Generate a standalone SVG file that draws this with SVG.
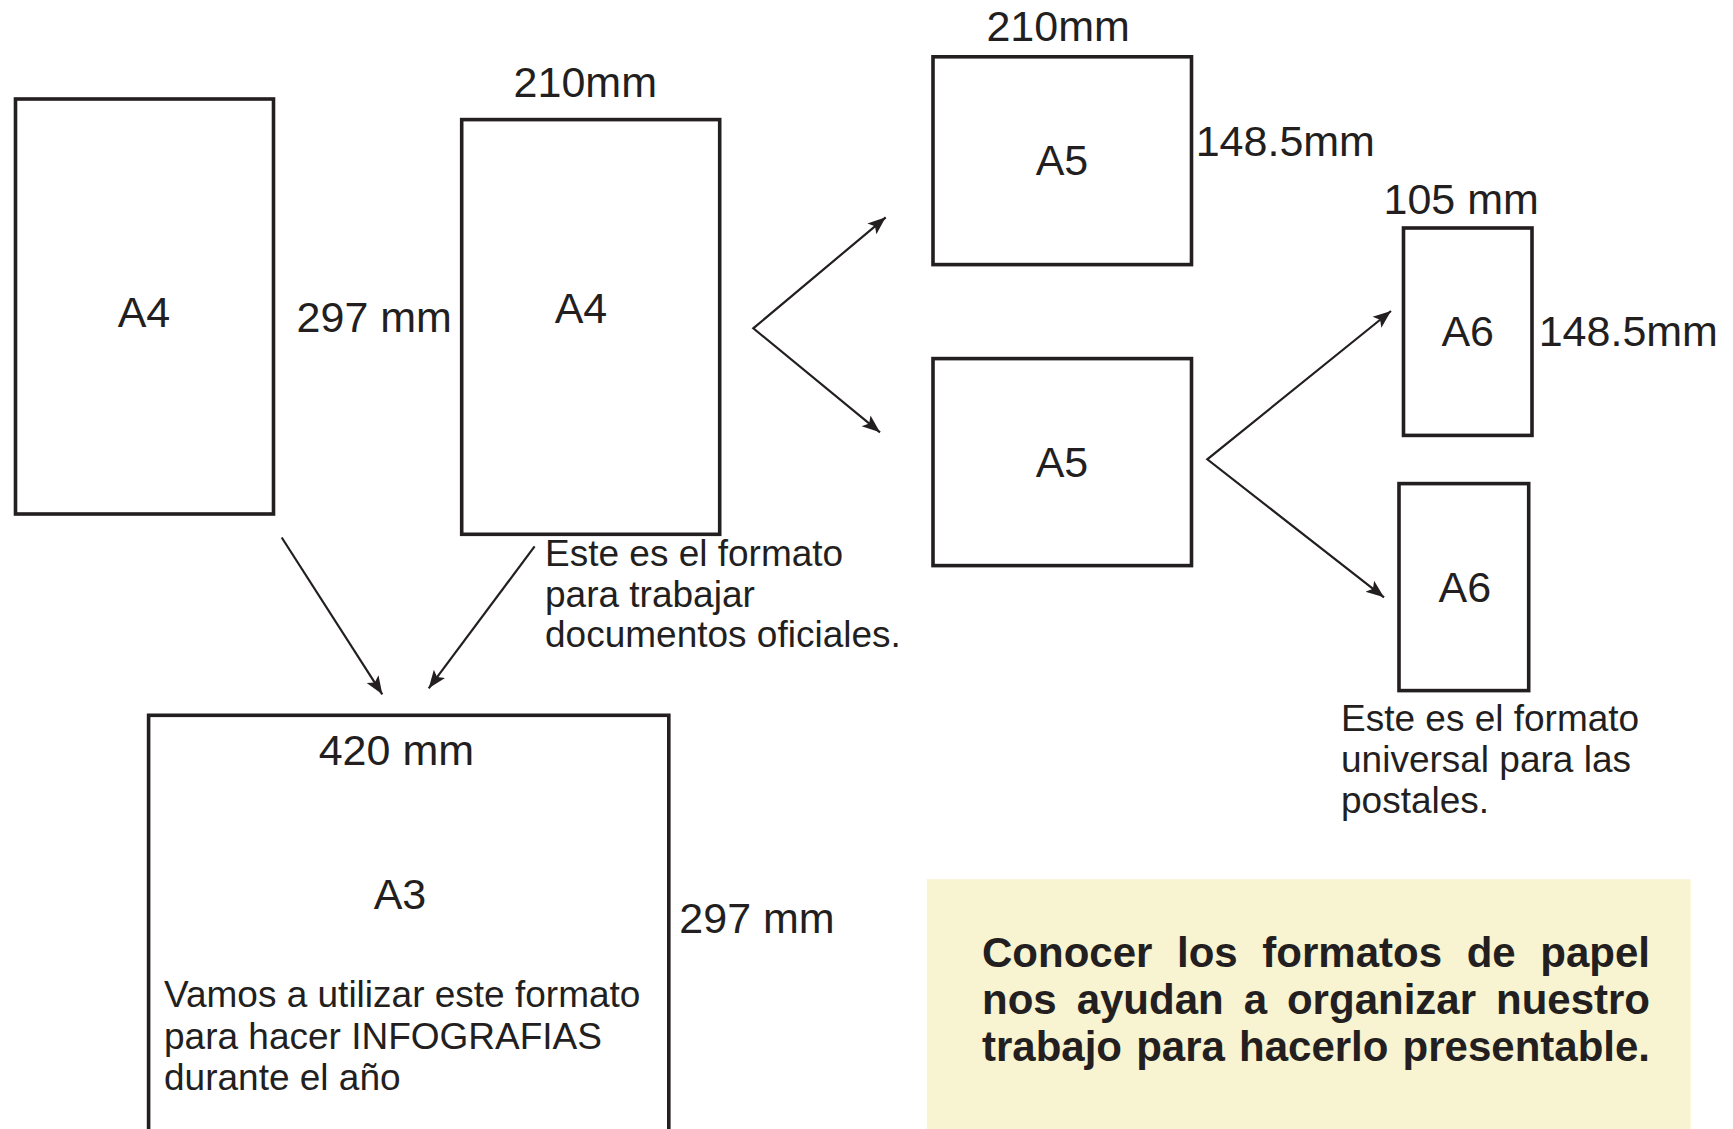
<svg xmlns="http://www.w3.org/2000/svg" width="1733" height="1129" viewBox="0 0 1733 1129">
<defs>
<style>
.sheet{fill:#fff;stroke:#231f20;stroke-width:3.6}
.lbl{font-family:"Liberation Sans",Arial,sans-serif;font-size:43px;fill:#231f20}
.note{font-family:"Liberation Sans",Arial,sans-serif;font-size:37px;fill:#231f20}
.bold{font-family:"Liberation Sans",Arial,sans-serif;font-size:42px;font-weight:bold;fill:#231f20}
.conn{fill:none;stroke:#231f20;stroke-width:2.2}
</style>
<marker id="ah" markerUnits="userSpaceOnUse" markerWidth="20" markerHeight="16" refX="18" refY="7" orient="auto-start-reverse" viewBox="0 0 20 14">
<path d="M0,0 L18,7 L0,14 L4,7 z" fill="#231f20"/>
</marker>
</defs>
<rect width="1733" height="1129" fill="#fff"/>

<g id="a4-left">
<rect class="sheet" x="15.5" y="99" width="258" height="415"/>
<text class="lbl" x="144" y="327" text-anchor="middle">A4</text>
<text class="lbl" x="296.6" y="332">297 mm</text>
</g>

<g id="a4-right">
<text class="lbl" x="513.6" y="97">210mm</text>
<rect class="sheet" x="461.7" y="119.6" width="258" height="414.7"/>
<text class="lbl" x="581" y="323" text-anchor="middle">A4</text>
<text class="note" x="545" y="566">Este es el formato</text>
<text class="note" x="545" y="606.5">para trabajar</text>
<text class="note" x="545" y="647">documentos oficiales.</text>
</g>

<g id="a5-top">
<text class="lbl" x="986.4" y="41">210mm</text>
<rect class="sheet" x="933" y="56.8" width="258.5" height="207.8"/>
<text class="lbl" x="1062" y="175" text-anchor="middle">A5</text>
<text class="lbl" x="1195.7" y="156.4">148.5mm</text>
</g>

<g id="a5-bottom">
<rect class="sheet" x="933" y="358.6" width="258.5" height="207"/>
<text class="lbl" x="1062" y="477" text-anchor="middle">A5</text>
</g>

<g id="a6-top">
<text class="lbl" x="1383.5" y="213.6">105 mm</text>
<rect class="sheet" x="1403.5" y="228" width="128.5" height="207.4"/>
<text class="lbl" x="1467.7" y="346.4" text-anchor="middle">A6</text>
<text class="lbl" x="1538.7" y="345.7">148.5mm</text>
</g>

<g id="a6-bottom">
<rect class="sheet" x="1399" y="483.6" width="129.7" height="207"/>
<text class="lbl" x="1464.8" y="602" text-anchor="middle">A6</text>
<text class="note" x="1341" y="731">Este es el formato</text>
<text class="note" x="1341" y="772">universal para las</text>
<text class="note" x="1341" y="813">postales.</text>
</g>

<g id="a3">
<rect class="sheet" x="148.6" y="715.3" width="520.2" height="430"/>
<text class="lbl" x="318.7" y="765">420 mm</text>
<text class="lbl" x="400" y="909" text-anchor="middle">A3</text>
<text class="lbl" x="679.3" y="933">297 mm</text>
<text class="note" x="164" y="1006.5">Vamos a utilizar este formato</text>
<text class="note" x="164" y="1048.5">para hacer INFOGRAFIAS</text>
<text class="note" x="164" y="1090">durante el año</text>
</g>

<g id="summary">
<rect x="926.8" y="879.3" width="763.8" height="260" fill="#f8f3d0"/>
<text class="bold" x="982" y="966.5" word-spacing="13" textLength="668" lengthAdjust="spacing">Conocer los formatos de papel</text>
<text class="bold" x="982" y="1013.5" word-spacing="8.3" textLength="668" lengthAdjust="spacing">nos ayudan a organizar nuestro</text>
<text class="bold" x="982" y="1061" word-spacing="2.5" textLength="668" lengthAdjust="spacing">trabajo para hacerlo presentable.</text>
</g>

<g id="connectors">
<line class="conn" x1="281.7" y1="537.5" x2="382.3" y2="694.3" marker-end="url(#ah)"/>
<line class="conn" x1="534.6" y1="546.4" x2="428.7" y2="688.3" marker-end="url(#ah)"/>
<path class="conn" d="M885.7,217.3 L753.3,328.3 L880,432.3" marker-start="url(#ah)" marker-end="url(#ah)"/>
<path class="conn" d="M1391,311 L1207.3,459.3 L1384,597.3" marker-start="url(#ah)" marker-end="url(#ah)"/>
</g>
</svg>
